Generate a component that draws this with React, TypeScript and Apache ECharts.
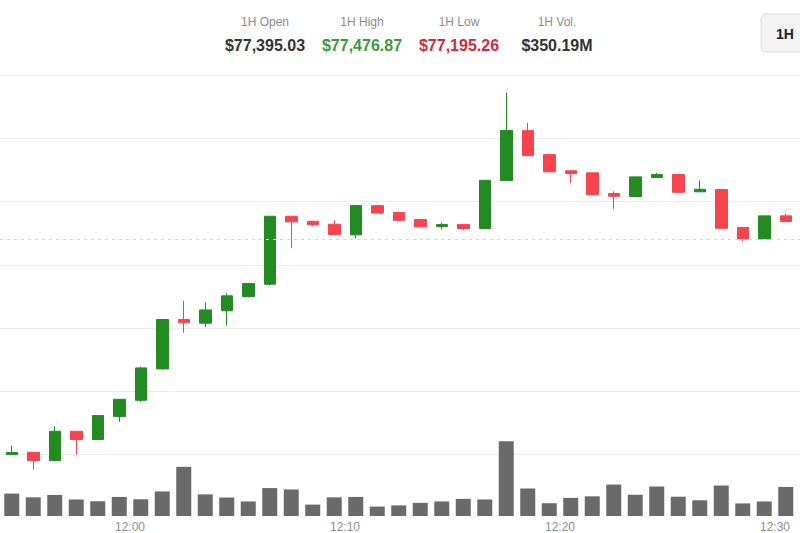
import { useEffect, useRef } from 'react';
import * as echarts from 'echarts';

// Minute candles (time = minute start)
const times = [
  '11:54', '11:55', '11:56', '11:57', '11:58', '11:59', '12:00', '12:01', '12:02', '12:03',
  '12:04', '12:05', '12:06', '12:07', '12:08', '12:09', '12:10', '12:11', '12:12', '12:13',
  '12:14', '12:15', '12:16', '12:17', '12:18', '12:19', '12:20', '12:21', '12:22', '12:23',
  '12:24', '12:25', '12:26', '12:27', '12:28', '12:29', '12:30',
];
const opens = [
  77200.1, 77201.9, 77195.4, 77218.5, 77212.0, 77230.1, 77243.0, 77267.8, 77306.8, 77303.9,
  77313.7, 77325.0, 77334.7, 77388.4, 77384.4, 77382.1, 77373.7, 77396.8, 77391.3, 77385.8,
  77380.3, 77381.8, 77378.7, 77416.6, 77456.1, 77437.1, 77424.3, 77422.7, 77406.3, 77404.0,
  77419.0, 77421.3, 77407.7, 77409.5, 77379.5, 77370.5, 77388.7,
];
const closes = [
  77201.7, 77195.4, 77218.5, 77212.0, 77230.9, 77243.8, 77268.6, 77306.8, 77304.2, 77314.4,
  77325.5, 77335.2, 77388.4, 77384.0, 77381.6, 77373.9, 77396.8, 77390.9, 77385.2, 77380.0,
  77381.8, 77378.7, 77416.8, 77456.1, 77436.3, 77423.5, 77422.1, 77405.5, 77404.2, 77419.5,
  77421.3, 77407.3, 77409.7, 77378.9, 77370.5, 77388.7, 77384.2,
];
const lows = [
  77200.1, 77188.3, 77195.4, 77200.1, 77212.0, 77226.0, 77241.8, 77267.3, 77296.3, 77300.7,
  77302.0, 77324.2, 77333.6, 77363.1, 77380.5, 77373.9, 77371.0, 77390.9, 77385.2, 77380.0,
  77377.9, 77377.3, 77378.7, 77416.6, 77436.3, 77423.5, 77414.8, 77405.5, 77394.2, 77404.0,
  77419.0, 77407.3, 77407.7, 77378.9, 77368.4, 77370.5, 77384.2,
];
const highs = [
  77207.2, 77201.9, 77222.5, 77218.5, 77230.9, 77243.8, 77269.5, 77306.8, 77321.8, 77320.4,
  77327.3, 77335.8, 77388.4, 77388.4, 77384.4, 77385.2, 77396.8, 77396.8, 77391.3, 77385.8,
  77383.2, 77381.8, 77416.8, 77485.9, 77462.2, 77437.1, 77424.3, 77422.7, 77408.1, 77419.5,
  77422.7, 77421.3, 77416.6, 77409.5, 77379.5, 77388.7, 77390.3,
];
// Volume per minute, in $M
const volumes = [
  5.7, 4.75, 5.35, 4.2, 3.75, 4.85, 4.25, 6.25, 12.5, 5.5,
  4.7, 3.7, 7.1, 6.75, 2.9, 4.75, 4.85, 2.4, 2.7, 3.35,
  3.7, 4.35, 4.2, 19.0, 7.0, 3.25, 4.6, 5.0, 8.0, 5.4,
  7.5, 4.9, 4.0, 7.75, 3.2, 3.7, 7.4,
];
const referencePrice = 77370;
const tickLabels = ['12:00', '12:10', '12:20', '12:30'];

const statLabels = ['1H Open', '1H High', '1H Low', '1H Vol.'];
const statValues = ['$77,395.03', '$77,476.87', '$77,195.26', '$350.19M'];
const statColors = ['#333333', '#3c9a3c', '#d3293a', '#333333'];
const statCenters = [265, 362, 459, 557];

const UP = '#228b22';
const DOWN = '#f6444f';
const FONT = '"Liberation Sans", Arial, Helvetica, sans-serif';

const toMin = (t: string) => {
  const [h, m] = t.split(':').map(Number);
  return h * 60 + m - 720;
};

export default function App() {
  const ref = useRef<HTMLDivElement>(null);

  useEffect(() => {
    if (!ref.current) return;
    const chart = echarts.init(ref.current, undefined, { renderer: 'svg' });
    const xs = times.map((t) => toMin(t) + 0.5);
    const candleData = xs.map((x, i) => [x, opens[i], closes[i], lows[i], highs[i]]);
    const volData = xs.map((x, i) => [x, volumes[i]]);
    const xMin = -130 / 21.5;
    const xMax = 670 / 21.5;
    const tickMins = tickLabels.map(toMin);

    const graphics: any[] = [];
    statLabels.forEach((l, i) => {
      graphics.push({
        type: 'text', x: statCenters[i], y: 22,
        style: { text: l, fill: '#8a8a8a', font: `12px ${FONT}`, textAlign: 'center', textVerticalAlign: 'middle' },
      });
      graphics.push({
        type: 'text', x: statCenters[i], y: 45,
        style: { text: statValues[i], fill: statColors[i], font: `600 16px ${FONT}`, textAlign: 'center', textVerticalAlign: 'middle' },
      });
    });
    graphics.push({
      type: 'rect', shape: { x: 761, y: 14, width: 60, height: 38, r: 5 },
      style: { fill: '#f3f3f3', stroke: '#dddddd', lineWidth: 1 },
    });
    graphics.push({
      type: 'text', x: 785, y: 34,
      style: { text: '1H', fill: '#222222', font: `bold 14px ${FONT}`, textAlign: 'center', textVerticalAlign: 'middle' },
    });

    chart.setOption({
      animation: false,
      backgroundColor: '#ffffff',
      textStyle: { fontFamily: FONT },
      graphic: graphics,
      grid: [
        { left: 0, right: 0, top: 75, bottom: 15 },
        { left: 0, right: 0, top: 398, bottom: 15 },
      ],
      xAxis: [
        {
          type: 'value', gridIndex: 0, min: xMin, max: xMax,
          axisLine: { show: false }, axisTick: { show: false }, axisLabel: { show: false }, splitLine: { show: false },
        },
        {
          type: 'value', gridIndex: 1, min: xMin, max: xMax,
          axisLine: { show: false }, axisTick: { show: false }, splitLine: { show: false },
          axisLabel: {
            customValues: tickMins,
            formatter: (v: number) => tickLabels[tickMins.indexOf(Math.round(v))] ?? '',
            color: '#8e8e8e', fontSize: 12, margin: 5, fontFamily: FONT,
          },
        },
      ],
      yAxis: [
        {
          type: 'value', gridIndex: 0, min: 77150, max: 77500, interval: 50,
          axisLine: { show: false }, axisTick: { show: false }, axisLabel: { show: false },
          splitLine: { show: true, showMinLine: false, lineStyle: { color: '#ebebeb', width: 1 } },
        },
        {
          type: 'value', gridIndex: 1, min: 0, max: 30,
          axisLine: { show: false }, axisTick: { show: false }, axisLabel: { show: false }, splitLine: { show: false },
        },
      ],
      series: [
        {
          type: 'candlestick', xAxisIndex: 0, yAxisIndex: 0,
          data: candleData, encode: { x: 0, y: [1, 2, 3, 4] },
          barWidth: 12, clip: false,
          itemStyle: { color: UP, color0: DOWN, borderColor: UP, borderColor0: DOWN, borderWidth: 1 },
          markLine: {
            silent: true, symbol: ['none', 'none'], label: { show: false },
            lineStyle: { color: '#d4d4d4', type: [3, 4], width: 1 },
            data: [{ yAxis: referencePrice }],
          },
        },
        {
          type: 'bar', xAxisIndex: 1, yAxisIndex: 1,
          data: volData, barWidth: 15,
          itemStyle: { color: '#6a6a6a' },
        },
      ],
    });
    return () => chart.dispose();
  }, []);

  return (
    <div
      ref={ref}
      style={{ position: 'fixed', left: 0, top: 0, width: 800, height: 533, background: '#fff' }}
    />
  );
}
